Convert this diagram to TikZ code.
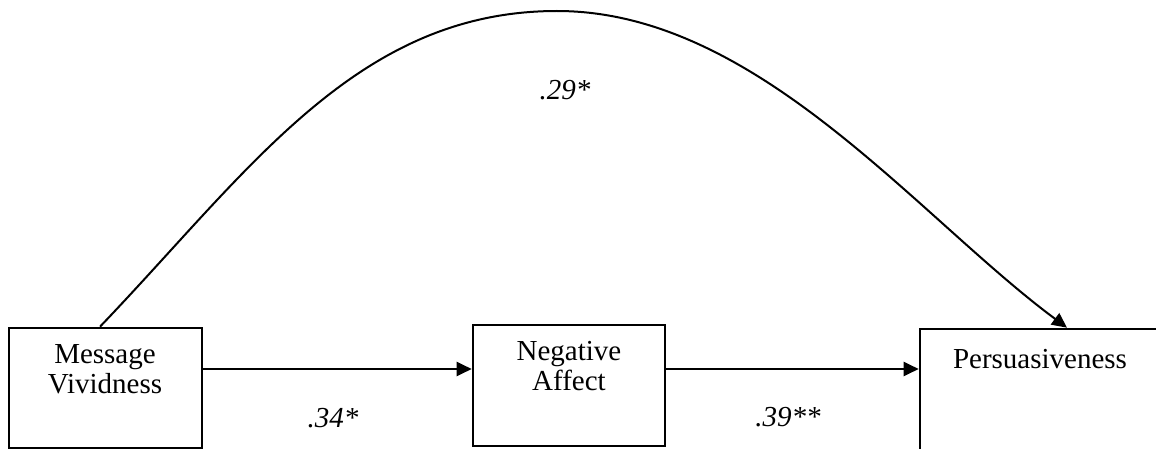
\documentclass[tikz,border=0pt]{standalone}
\usepackage{fontspec}
\setmainfont{Liberation Serif}
\usetikzlibrary{positioning,arrows.meta,calc}
\definecolor{ink}{HTML}{000000}
\tikzset{
  >={Triangle[length=7.5pt,width=7pt]},
  every node/.style={font=\fontsize{14.5pt}{15pt}\selectfont},
  % --- nodes
  box/.style  = {draw=ink, line width=1.3pt, inner sep=0pt},
  txt/.style  = {align=center, inner sep=0pt, text=ink},
  coef/.style = {font=\fontsize{14.5pt}{15pt}\selectfont\itshape, inner sep=0pt,
                 anchor=base, text=ink},
  % --- edges
  e/.style    = {->, line width=1pt, draw=ink},
}

\begin{document}
\begin{tikzpicture}[x=0.5pt,y=-0.5pt]
  \useasboundingbox (0,0) rectangle (1156,449);
  \clip (0,0) rectangle (1156,449);
  \node[box, minimum width=96.5pt, minimum height=60pt] (mv) at (105.5,388) {};
  \node[box, minimum width=96pt, minimum height=60.5pt] (na) at (569,385.5) {};
  \node[box, minimum width=147pt, minimum height=80pt] (p) at (1067,409) {};
  \node[txt, anchor=north] (mvtxt) at (105,344) {Message\\Vividness};
  \node[txt, anchor=north] (natxt) at (569,341) {Negative\\Affect};
  \node[txt, anchor=base] (ptxt) at (1040,368) {Persuasiveness};
  \node[coef] (b29) at (565,100) {.29*};
  \node[coef] (b34) at (333,427) {.34*};
  \node[coef] (b39) at (788,426) {.39**};
  \draw[e] ([yshift=9.5pt]mv.east) -- ([yshift=9.5pt]mv.east -| na.west);
  \draw[e] ([yshift=8.25pt]na.east) -- ([yshift=8.25pt]na.east -| p.west);
  \coordinate (top) at (557,11);
  \draw[e] ([xshift=-2.75pt]mv.north) .. controls (250,170) and (357,11) .. (top)
    .. controls (757,11) and (917,216.5) .. (p.north);
\end{tikzpicture}
\end{document}
